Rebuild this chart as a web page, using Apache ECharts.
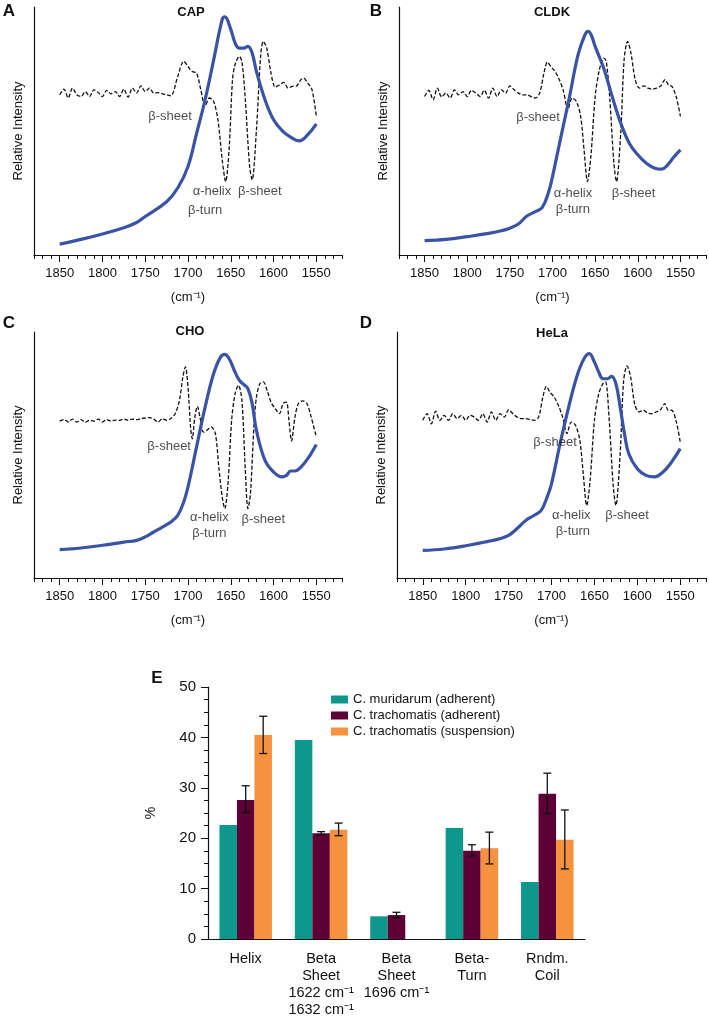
<!DOCTYPE html>
<html><head><meta charset="utf-8">
<script src="https://cdn.jsdelivr.net/npm/echarts@6/dist/echarts.min.js"></script>
<style>html,body{margin:0;padding:0;background:#fff}#c{width:709px;height:1020px}</style>
</head><body><div id="c"></div>
<script>
// ---------- Spectra data: [wavenumber (cm-1), relative intensity 0-100] ----------
const capAbs = [[1850,4.4],[1825,6.3],[1800,8.5],[1775,11],[1760,13.1],[1750,15.5],[1725,21.5],[1712,27],[1700,35.7],[1690,49],[1680,62.6],[1670,78.7],[1660,95],[1657,96],[1650,91],[1645,85.5],[1640,83.4],[1635,83.4],[1630,84.1],[1625,81.4],[1620,74],[1610,62.6],[1600,54.5],[1590,50.2],[1580,47.5],[1570,46],[1560,48.5],[1550,52.9]];
const capDeriv = [[1850,64.6],[1845,66.9],[1840,63.3],[1835,67.3],[1830,64.6],[1825,63.9],[1820,65.9],[1815,63.9],[1810,66.6],[1805,65.5],[1800,63.9],[1795,66.4],[1790,65.0],[1785,65.9],[1780,63.9],[1775,66.9],[1770,63.7],[1765,67.3],[1760,65.3],[1755,68.2],[1750,65.9],[1745,67.3],[1740,65.3],[1735,65.5],[1730,65.0],[1725,64.6],[1720,64.2],[1712,72.0],[1705,78.1],[1700,76.0],[1695,74.0],[1690,73.4],[1685,66.6],[1680,59.9],[1675,63.3],[1670,61.9],[1665,54.5],[1660,38.4],[1656,29.6],[1652,42.4],[1648,70.7],[1645,76.7],[1640,80.1],[1637,78.1],[1633,62.6],[1628,35.7],[1625,30.3],[1620,50.5],[1615,80.8],[1612,86.1],[1608,83.4],[1603,73.4],[1598,67.7],[1593,68.6],[1588,69.6],[1583,67.3],[1578,68.0],[1573,68.2],[1568,70.7],[1565,71.3],[1560,69.3],[1555,66.6],[1550,55.9]];
const cldkAbs = [[1850,5.8],[1825,6.3],[1800,7.4],[1775,8.7],[1760,9.8],[1750,10.8],[1740,12.5],[1730,15.7],[1720,17.5],[1712,19.2],[1705,24.9],[1700,31.6],[1695,39.7],[1690,47.8],[1680,63.9],[1670,80.8],[1662,88.8],[1658,90.2],[1654,88.2],[1650,84.1],[1640,75.4],[1630,63.9],[1620,53.2],[1610,45.1],[1600,40.4],[1590,37.0],[1580,35.0],[1572,34.6],[1565,36.3],[1558,39.4],[1550,42.4]];
const cldkDeriv = [[1850,63.9],[1845,66.4],[1840,62.6],[1835,67.3],[1830,63.7],[1825,65.3],[1820,63.3],[1815,66.6],[1810,64.6],[1805,65.9],[1800,63.9],[1795,66.4],[1790,65.3],[1785,63.9],[1780,66.4],[1775,63.3],[1770,67.3],[1765,63.9],[1760,66.6],[1755,65.3],[1750,68.2],[1745,66.6],[1740,65.3],[1735,64.6],[1730,64.6],[1725,63.9],[1720,63.3],[1715,65.3],[1710,73.4],[1706,77.8],[1702,76.0],[1697,74.0],[1692,70.7],[1687,65.9],[1682,58.5],[1677,63.3],[1672,61.9],[1667,55.9],[1663,42.4],[1659,29.6],[1655,39.7],[1650,63.9],[1645,74.7],[1640,79.4],[1637,78.1],[1633,63.9],[1628,37.0],[1625,29.6],[1620,49.1],[1616,78.7],[1612,86.1],[1608,81.4],[1603,70.7],[1598,67.3],[1593,68.2],[1588,67.3],[1583,66.9],[1578,67.3],[1573,68.2],[1568,70.7],[1564,68.6],[1560,68.0],[1555,63.9],[1550,55.9]];
const choAbs = [[1850,11.5],[1825,12.2],[1800,13.3],[1775,14.6],[1760,15.3],[1750,16.7],[1740,18.7],[1730,20.7],[1720,22.8],[1712,25.5],[1705,30.9],[1700,37.0],[1690,53.3],[1680,69.5],[1670,83.1],[1662,89.8],[1657,90.9],[1652,89.2],[1645,83.7],[1640,80.4],[1635,78.7],[1630,77.0],[1625,70.9],[1620,60.0],[1610,47.8],[1600,43.1],[1590,41.1],[1585,41.7],[1580,43.5],[1575,43.5],[1568,45.1],[1560,48.5],[1550,54.3]];
const choDeriv = [[1850,63.8],[1845,64.4],[1840,63.4],[1835,64.6],[1830,63.4],[1825,64.4],[1820,63.3],[1815,64.1],[1810,63.8],[1805,64.6],[1800,63.4],[1795,64.4],[1790,63.8],[1785,64.2],[1780,64.1],[1775,64.6],[1770,64.1],[1765,64.6],[1760,64.4],[1755,64.8],[1750,65.0],[1745,65.2],[1740,64.6],[1735,63.4],[1730,64.8],[1725,64.1],[1720,64.8],[1715,66.8],[1710,72.2],[1706,81.7],[1703,85.8],[1700,77.6],[1697,61.4],[1695,56.6],[1692,65.4],[1689,69.8],[1686,65.4],[1682,59.3],[1678,60.0],[1673,61.4],[1668,58.7],[1664,45.1],[1660,32.9],[1657,28.2],[1653,39.7],[1649,64.1],[1645,74.9],[1641,78.3],[1637,72.2],[1633,43.8],[1630,28.2],[1627,34.3],[1623,61.4],[1620,73.6],[1616,79.0],[1612,79.7],[1607,75.6],[1603,71.5],[1598,68.8],[1593,66.8],[1589,70.9],[1585,71.5],[1582,64.1],[1579,55.7],[1575,65.4],[1571,70.9],[1566,72.0],[1561,70.9],[1556,65.4],[1550,57.3]];
const helaAbs = [[1850,11.2],[1825,11.8],[1800,13.1],[1775,14.8],[1760,16.0],[1750,17.3],[1740,20.1],[1730,23.4],[1720,25.5],[1712,27.5],[1705,33.0],[1700,38.3],[1690,54.6],[1680,69.5],[1670,82.4],[1662,89.2],[1656,91.2],[1650,87.8],[1645,83.7],[1640,81.0],[1635,81.0],[1630,82.0],[1625,79.0],[1620,69.5],[1615,58.7],[1610,50.5],[1600,44.4],[1590,41.7],[1580,41.1],[1570,43.1],[1560,47.2],[1550,52.6]];
const helaDeriv = [[1850,64.1],[1845,66.8],[1840,62.7],[1835,67.8],[1830,64.1],[1825,66.1],[1820,64.1],[1815,66.8],[1810,64.8],[1805,66.1],[1800,64.1],[1795,66.1],[1790,65.4],[1785,64.1],[1780,66.8],[1775,63.4],[1770,67.5],[1765,64.1],[1760,66.8],[1755,65.4],[1750,68.4],[1745,66.8],[1740,65.4],[1735,64.8],[1730,64.8],[1725,64.4],[1720,64.1],[1715,65.4],[1710,73.6],[1706,77.9],[1702,75.6],[1697,73.6],[1692,70.2],[1687,65.4],[1682,58.7],[1677,63.4],[1672,62.1],[1667,56.0],[1663,42.4],[1659,29.5],[1655,39.7],[1650,64.1],[1645,74.9],[1640,79.0],[1637,79.7],[1633,65.4],[1628,37.0],[1625,29.5],[1620,50.5],[1616,80.1],[1612,86.2],[1608,82.1],[1603,70.6],[1598,67.5],[1593,68.2],[1588,67.1],[1583,66.8],[1578,67.5],[1573,68.4],[1568,70.9],[1564,68.2],[1560,68.2],[1555,64.1],[1550,55.3]];

// band annotations: [wavenumber, intensity, text]
const capNotes = [[1721,55.9,'β-sheet'],[1672,25.6,'α-helix'],[1680,17.9,'β-turn'],[1616,25.6,'β-sheet']];
const cldkNotes = [[1717,55.6,'β-sheet'],[1676,24.9,'α-helix'],[1676,18.4,'β-turn'],[1605,24.9,'β-sheet']];
const choNotes = [[1722,53.5,'β-sheet'],[1675,24.8,'α-helix'],[1675,18.0,'β-turn'],[1612,23.8,'β-sheet']];
const helaNotes = [[1696,55.3,'β-sheet'],[1677,25.5,'α-helix'],[1675,19.1,'β-turn'],[1612,25.5,'β-sheet']];

const panelTitles = ['CAP','CLDK','CHO','HeLa'];
const panelLetters = ['A','B','C','D','E'];
const wnLabels = [1550,1600,1650,1700,1750,1800,1850];

// ---------- Bar chart data ----------
const categories = ['Helix','Beta\nSheet\n1622 cm⁻¹\n1632 cm⁻¹','Beta\nSheet\n1696 cm⁻¹','Beta-\nTurn','Rndm.\nCoil'];
const seriesNames = ['C. muridarum (adherent)','C. trachomatis (adherent)','C. trachomatis (suspension)'];
const muridarumAdh = [22.6, 39.5, 4.5, 22.0, 11.3];
const trachomatisAdh = [27.6, 21.0, 4.75, 17.5, 28.8];
const trachomatisSusp = [40.5, 21.7, null, 18.0, 19.7];
const trachomatisAdhErr = [[25.1,30.4],[20.7,21.3],[4.2,5.3],[16.5,18.7],[24.9,32.9]];
const trachomatisSuspErr = [[36.8,44.2],[20.5,23.0],null,[14.9,21.2],[13.9,25.6]];

const FONT = 'Liberation Sans, Arial, Helvetica, sans-serif';
const BLUE = '#3a53a4';
const COLORS = ['#0e988d','#5c0035','#f6913d'];

const grids = [
  {left:34, top:7, width:308, height:248},
  {left:399, top:7, width:309, height:248},
  {left:34, top:332, width:308, height:246},
  {left:397, top:332, width:310, height:246},
  {left:208, top:687, width:377, height:252}
];

const spectra = [[capAbs,capDeriv,capNotes],[cldkAbs,cldkDeriv,cldkNotes],[choAbs,choDeriv,choNotes],[helaAbs,helaDeriv,helaNotes]];

const xAxes = [], yAxes = [], series = [];
spectra.forEach((sp, i) => {
  xAxes.push({
    gridIndex:i, type:'value', position:'bottom', inverse:true, min:1520, max:1880, interval:10,
    axisLine:{lineStyle:{color:'#111', width:1.2}},
    axisTick:{length:4, lineStyle:{color:'#111', width:1}},
    axisLabel:{fontFamily:FONT, fontSize:13, color:'#111', margin:12,
      formatter: v => (wnLabels.indexOf(v) >= 0 ? String(v) : '')},
    splitLine:{show:false},
    name:'(cm⁻¹)', nameLocation:'middle', nameGap:36,
    nameTextStyle:{fontFamily:FONT, fontSize:13, color:'#111'}
  });
  xAxes.push({
    gridIndex:i, type:'value', position:'bottom', offset:0, inverse:true, min:1520, max:1880,
    axisLine:{show:false},
    axisTick:{show:true, length:7, lineStyle:{color:'#111', width:1}, customValues:wnLabels},
    axisLabel:{show:false, customValues:wnLabels},
    splitLine:{show:false}
  });
  yAxes.push({
    gridIndex:i, type:'value', min:0, max:100,
    axisLine:{show:true, lineStyle:{color:'#111', width:1.2}},
    axisTick:{show:false}, axisLabel:{show:false}, splitLine:{show:false},
    name:'Relative Intensity', nameLocation:'middle', nameGap:9,
    nameTextStyle:{fontFamily:FONT, fontSize:13, color:'#111'}
  });
  series.push({
    type:'line', xAxisIndex:2*i, yAxisIndex:i, data:sp[1], showSymbol:false, smooth:0.3,
    lineStyle:{color:'#111', width:1.3, type:[4,2]}, silent:true, z:2
  });
  series.push({
    type:'line', xAxisIndex:2*i, yAxisIndex:i, data:sp[0], showSymbol:false, smooth:0.4,
    lineStyle:{color:BLUE, width:3.2}, silent:true, z:3
  });
  series.push({
    type:'scatter', xAxisIndex:2*i, yAxisIndex:i, symbolSize:0, silent:true, z:4,
    data: sp[2].map(n => ({value:[n[0], n[1]], name:n[2]})),
    label:{show:true, position:'inside', formatter:p => p.name, fontFamily:FONT, fontSize:13, color:'#222'}
  });
});

// bar chart axes
xAxes.push({
  gridIndex:4, type:'category', data:categories,
  axisLine:{lineStyle:{color:'#111', width:1.2}},
  axisTick:{alignWithLabel:true, length:5, lineStyle:{color:'#111'}},
  axisLabel:{fontFamily:FONT, fontSize:14.5, color:'#111', margin:11, lineHeight:17, interval:0}
});
yAxes.push({
  gridIndex:4, type:'value', min:0, max:50, interval:10,
  axisLine:{show:true, lineStyle:{color:'#111', width:1.2}},
  axisTick:{show:true, length:7, lineStyle:{color:'#111'}},
  minorTick:{show:true, splitNumber:4, length:4, lineStyle:{color:'#111'}},
  axisLabel:{fontFamily:FONT, fontSize:15, color:'#111', margin:12},
  splitLine:{show:false},
  name:'%', nameLocation:'middle', nameGap:50, nameRotate:90,
  nameTextStyle:{fontFamily:FONT, fontSize:14, color:'#111'}
});
const BAR_X = 8, BAR_Y = 4;
const barData = [muridarumAdh, trachomatisAdh, trachomatisSusp];
barData.forEach((d, k) => {
  series.push({
    type:'bar', name:seriesNames[k], xAxisIndex:BAR_X, yAxisIndex:BAR_Y,
    data:d, barWidth:17.5, barGap:'0%', itemStyle:{color:COLORS[k]}, silent:true
  });
});
const BW = 17.5;
function errSeries(err, offset) {
  return {
    type:'custom', xAxisIndex:BAR_X, yAxisIndex:BAR_Y, silent:true, z:10,
    data: err.map((e, i) => e ? [i, e[0], e[1]] : [i, null, null]),
    renderItem: (params, api) => {
      if (api.value(1) == null || isNaN(api.value(1))) return null;
      const lo = api.coord([api.value(0), api.value(1)]);
      const hi = api.coord([api.value(0), api.value(2)]);
      const x = lo[0] + offset, cap = 4;
      const st = {stroke:'#111', lineWidth:1.3};
      return {type:'group', children:[
        {type:'line', shape:{x1:x, y1:lo[1], x2:x, y2:hi[1]}, style:st},
        {type:'line', shape:{x1:x-cap, y1:lo[1], x2:x+cap, y2:lo[1]}, style:st},
        {type:'line', shape:{x1:x-cap, y1:hi[1], x2:x+cap, y2:hi[1]}, style:st}
      ]};
    }
  };
}
series.push(errSeries(trachomatisAdhErr, 0));
series.push(errSeries(trachomatisSuspErr, BW));

// panel titles and letters
const txt = (t, x, y, size, bold) => ({type:'text', x, y, style:{text:t, fill:'#111', font:(bold?'bold ':'')+size+'px '+FONT, textAlign:'center', textVerticalAlign:'middle'}});
const graphic = [
  txt(panelLetters[0], 9, 11, 17, true), txt(panelTitles[0], 191, 12, 13, true),
  txt(panelLetters[1], 376, 11, 17, true), txt(panelTitles[1], 552, 12, 13, true),
  txt(panelLetters[2], 9, 323, 17, true), txt(panelTitles[2], 190, 331, 13, true),
  txt(panelLetters[3], 366, 323, 17, true), txt(panelTitles[3], 552, 333, 13, true),
  txt(panelLetters[4], 157, 678, 17, true)
];

const chart = echarts.init(document.getElementById('c'), null, {renderer:'canvas'});
chart.setOption({
  animation:false,
  backgroundColor:'#fff',
  textStyle:{fontFamily:FONT},
  grid:grids,
  xAxis:xAxes, yAxis:yAxes, series,
  legend:{data:seriesNames, orient:'vertical', left:326, top:688, itemWidth:17, itemHeight:8, itemGap:3,
    icon:'rect', textStyle:{fontFamily:FONT, fontSize:13, color:'#111'}, selectedMode:false},
  graphic
});
</script></body></html>
